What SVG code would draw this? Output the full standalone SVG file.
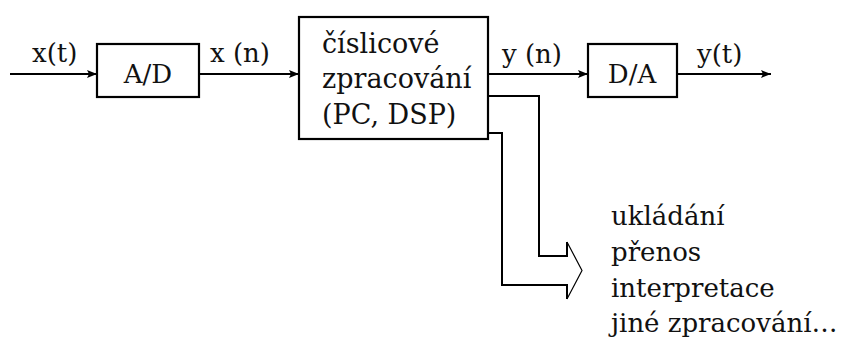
<svg xmlns="http://www.w3.org/2000/svg" width="843" height="340" viewBox="0 0 843 340">
  <style>
    .box { fill: #fff; stroke: #000; stroke-width: 2.2; }
    .wire { fill: none; stroke: #000; stroke-width: 2; }
    .thin { fill: none; stroke: #000; stroke-width: 1.2; }
    text { font-family: "DejaVu Serif", "Liberation Serif", serif; fill: #111; }
    .lbl { font-size: 26px; }
    .big { font-size: 27px; }
    .list { font-size: 26px; }
  </style>
  <defs>
    <marker id="arr" viewBox="0 0 10 8" refX="10" refY="4" markerWidth="10" markerHeight="8" markerUnits="userSpaceOnUse" orient="auto">
      <path d="M0,0 L10,4 L0,8 L2,4 Z" fill="#000"/>
    </marker>
  </defs>

  <g id="connectors">
    <line class="wire" x1="10" y1="74" x2="97" y2="74" marker-end="url(#arr)"/>
    <line class="wire" x1="199" y1="74" x2="299" y2="74" marker-end="url(#arr)"/>
    <line class="wire" x1="488" y1="74" x2="588" y2="74" marker-end="url(#arr)"/>
    <line class="wire" x1="677" y1="74" x2="771" y2="74" marker-end="url(#arr)"/>
    <!-- wide output arrow -->
    <path class="wire" d="M488,96 H539 V256 H567 V242"/>
    <path class="wire" d="M488,133 H502 V285 H567 V299"/>
    <path class="thin" d="M567,242 L582,270.5 L567,299"/>
    <text class="lbl" x="32" y="62">x(t)</text>
    <text class="lbl" x="210" y="62">x (n)</text>
    <text class="lbl" x="502" y="63">y (n)</text>
    <text class="lbl" x="697" y="63">y(t)</text>
  </g>

  <g id="ad">
    <rect class="box" x="97" y="44" width="102" height="53"/>
    <text class="lbl" x="148" y="83" text-anchor="middle">A/D</text>
  </g>

  <g id="dsp">
    <rect class="box" x="299" y="17" width="189" height="122"/>
    <text class="big" x="322" y="53">číslicové</text>
    <text class="big" x="322" y="88">zpracování</text>
    <text class="big" x="322" y="124">(PC, DSP)</text>
  </g>

  <g id="da">
    <rect class="box" x="588" y="44" width="89" height="53"/>
    <text class="lbl" x="632" y="83" text-anchor="middle">D/A</text>
  </g>

  <g id="uses">
    <text class="list" x="611" y="225">ukládání</text>
    <text class="list" x="611" y="261">přenos</text>
    <text class="list" x="611" y="297">interpretace</text>
    <text class="list" x="611" y="332">jiné zpracování…</text>
  </g>
</svg>
